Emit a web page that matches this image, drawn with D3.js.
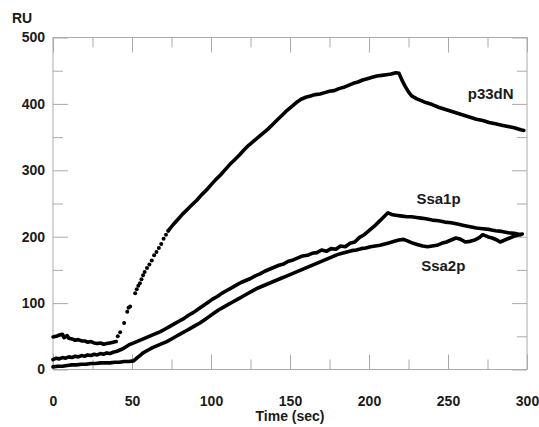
<!DOCTYPE html>
<html>
  <head>
    <meta charset="utf-8">
    <script src="https://d3js.org/d3.v7.min.js"></script>
    <style>
      body { margin: 0; background: #fff; }
      text { font-family: "Liberation Sans", Arial, Helvetica, sans-serif; font-weight: bold; fill: #1a1a1a; }
      .tick line { stroke: #aaa; }
    </style>
  </head>
<body>
<script>
  // tick values
  var xTicks = [0, 50, 100, 150, 200, 250, 300];
  var xMinor = [25, 75, 125, 175, 225, 275];
  var yTicks = [0, 100, 200, 300, 400, 500];
  var yMinor = [50, 150, 250, 350, 450];

  // p33dN: baseline before injection, sparse points of the fast rise, then the rest
  var p33dnBase = [[0,49],[2,50],[4,52],[6,53],[7,48],[9,51],[10,47],[12,46],[14,44],[16,45],[18,43],[20,43],
    [22,41],[24,42],[26,40],[28,39],[30,40],[32,38],[34,39],[36,40],[38,41],[40,42]];
  var p33dnRise = [[41,50],[42.5,56],[45,70],[47,87],[47.8,93],[48.8,95],[52,115],[53,121],[54,126],[55,130],
    [56,136],[57,142],[58,147],[59.5,153],[61,158],[62.5,164],[64,172],[65.5,177],[67,183],[68.5,189],
    [70,197],[71.5,203],[73,209]];
  var p33dnMain = [[73,209],[76,218],[79,226],[82,234],[85,241],[88,248],[91,255],[94,263],[97,270],[100,278],
    [103,286],[106,293],[109,301],[112,309],[115,316],[118,323],[121,331],[124,338],[127,344],[130,350],
    [133,356],[136,362],[139,369],[142,376],[145,383],[148,390],[151,396],[154,402],[157,407],[160,410],
    [163,412],[166,414],[169,415],[172,417],[175,419],[178,420],[181,423],[184,425],[187,428],[190,431],
    [193,433],[196,436],[199,438],[202,440],[205,442],[208,443],[211,444],[214,445],[217,447],[219,446],
    [221,435],[223,426],[225,418],[227,412],[230,408],[233,405],[236,402],[240,399],[244,395],[248,392],
    [252,389],[256,386],[260,383],[264,380],[268,377],[272,375],[276,372],[280,370],[284,368],[288,366],
    [292,364],[296,361],[298,360]];

  var ssa1p = [[0,15],[2,17],[4,16],[6,18],[8,17],[10,19],[12,18],[14,20],[16,19],[18,21],[20,20],[22,22],
    [24,21],[26,23],[28,22],[30,24],[32,23],[34,25],[36,24],[38,26],[40,27],[42,29],[44,31],[46,34],
    [48,37],[50,39],[53,42],[56,45],[59,48],[62,51],[65,54],[68,57],[71,61],[74,65],[77,69],[80,73],
    [83,77],[86,82],[89,86],[92,91],[95,96],[98,101],[101,106],[104,110],[107,115],[110,119],[113,123],
    [116,127],[119,131],[122,134],[125,137],[128,141],[131,144],[134,148],[137,151],[140,154],[143,157],
    [146,159],[149,163],[152,165],[155,168],[158,171],[161,172],[164,175],[167,176],[170,180],[173,178],
    [176,182],[179,181],[182,186],[185,185],[188,190],[191,192],[194,199],[197,203],[200,209],[203,215],
    [206,222],[209,229],[212,236],[215,233],[218,232],[221,231],[224,230],[227,230],[230,229],[233,228],
    [236,227],[240,225],[244,224],[248,222],[252,221],[256,219],[260,217],[264,215],[268,213],[272,212],
    [276,211],[280,209],[284,208],[288,206],[292,205],[296,203]];

  var ssa2p = [[0,4],[3,5],[6,5],[9,6],[12,7],[15,7],[18,8],[21,8],[24,9],[27,9],[30,10],[33,10],[36,10],
    [39,11],[42,11],[45,12],[48,12],[51,13],[53,17],[55,21],[57,25],[60,29],[63,33],[66,36],[69,39],
    [72,42],[75,46],[78,50],[81,54],[84,58],[87,62],[90,66],[93,70],[96,75],[99,80],[102,85],[105,90],
    [108,94],[111,98],[114,102],[117,106],[120,110],[123,114],[126,118],[129,122],[132,125],[135,128],
    [138,131],[141,134],[144,137],[147,140],[150,143],[153,146],[156,149],[159,152],[162,155],[165,158],
    [168,161],[171,164],[174,167],[177,170],[180,173],[183,175],[186,177],[189,179],[192,180],[195,182],
    [198,183],[201,185],[204,186],[207,187],[210,189],[213,191],[216,193],[219,195],[222,196],[225,193],
    [228,190],[231,188],[234,186],[237,185],[240,186],[243,187],[246,190],[249,192],[252,195],[255,198],
    [258,196],[261,192],[264,193],[267,195],[270,199],[272,203],[275,200],[278,198],[281,195],[283,192],
    [286,195],[289,198],[292,201],[295,203],[297,204]];

  var labels = [["p33dN", 277, 408], ["Ssa1p", 244, 250], ["Ssa2p", 247, 148]];

  var width = 539, height = 427;
  var svg = d3.select("body").append("svg")
      .attr("width", width)
      .attr("height", height);

  var x = d3.scaleLinear().domain([0, 300]).range([53, 527]);
  var y = d3.scaleLinear().domain([0, 500]).range([369.5, 37.5]);

  // frame
  svg.append("rect")
      .attr("x", x(0)).attr("y", y(500))
      .attr("width", x(300) - x(0)).attr("height", y(0) - y(500))
      .attr("fill", "none").attr("stroke", "#aaa");

  function axisStyle(g) {
    g.select(".domain").remove();
    g.selectAll("text").style("font-size", "14px").attr("fill", "#1a1a1a");
  }

  // major + minor ticks on all four sides, pointing inward
  svg.append("g").attr("transform", "translate(0," + y(0) + ")")
      .call(d3.axisBottom(x).tickValues(xTicks).tickSizeInner(-15).tickSizeOuter(0).tickPadding(27))
      .call(axisStyle);
  svg.append("g").attr("transform", "translate(0," + y(0) + ")")
      .call(d3.axisBottom(x).tickValues(xMinor).tickSizeInner(-10).tickSizeOuter(0).tickFormat(""))
      .call(axisStyle);
  svg.append("g").attr("transform", "translate(0," + y(500) + ")")
      .call(d3.axisTop(x).tickValues(xTicks).tickSizeInner(-15).tickSizeOuter(0).tickFormat(""))
      .call(axisStyle);
  svg.append("g").attr("transform", "translate(0," + y(500) + ")")
      .call(d3.axisTop(x).tickValues(xMinor).tickSizeInner(-10).tickSizeOuter(0).tickFormat(""))
      .call(axisStyle);
  svg.append("g").attr("transform", "translate(" + x(0) + ",0)")
      .call(d3.axisLeft(y).tickValues(yTicks).tickSizeInner(-15).tickSizeOuter(0).tickPadding(8))
      .call(axisStyle);
  svg.append("g").attr("transform", "translate(" + x(0) + ",0)")
      .call(d3.axisLeft(y).tickValues(yMinor).tickSizeInner(-10).tickSizeOuter(0).tickFormat(""))
      .call(axisStyle);
  svg.append("g").attr("transform", "translate(" + x(300) + ",0)")
      .call(d3.axisRight(y).tickValues(yTicks).tickSizeInner(-15).tickSizeOuter(0).tickFormat(""))
      .call(axisStyle);
  svg.append("g").attr("transform", "translate(" + x(300) + ",0)")
      .call(d3.axisRight(y).tickValues(yMinor).tickSizeInner(-10).tickSizeOuter(0).tickFormat(""))
      .call(axisStyle);

  svg.append("text").attr("x", 12).attr("y", 23).style("font-size", "14px").text("RU");
  svg.append("text").attr("x", (x(0) + x(300)) / 2).attr("y", 421)
      .attr("text-anchor", "middle").style("font-size", "14px").text("Time (sec)");

  // the traces: dense sampling reads as a thick dotted line
  var line = d3.line().x(function (d) { return x(d[0]); }).y(function (d) { return y(d[1]); });
  [p33dnBase, p33dnMain, ssa1p, ssa2p].forEach(function (s) {
    svg.append("path").datum(s)
        .attr("d", line)
        .attr("fill", "none")
        .attr("stroke", "#000")
        .attr("stroke-width", 3.6)
        .attr("stroke-linejoin", "round")
        .attr("stroke-linecap", "round");
  });
  svg.append("g").selectAll("circle")
      .data(p33dnRise)
      .enter().append("circle")
        .attr("cx", function (d) { return x(d[0]); })
        .attr("cy", function (d) { return y(d[1]); })
        .attr("r", 2)
        .attr("fill", "#000");

  svg.selectAll(".series-label")
      .data(labels)
      .enter().append("text")
        .attr("class", "series-label")
        .attr("x", function (d) { return x(d[1]); })
        .attr("y", function (d) { return y(d[2]); })
        .attr("text-anchor", "middle")
        .style("font-size", "15px")
        .text(function (d) { return d[0]; });
</script>
</body>
</html>
